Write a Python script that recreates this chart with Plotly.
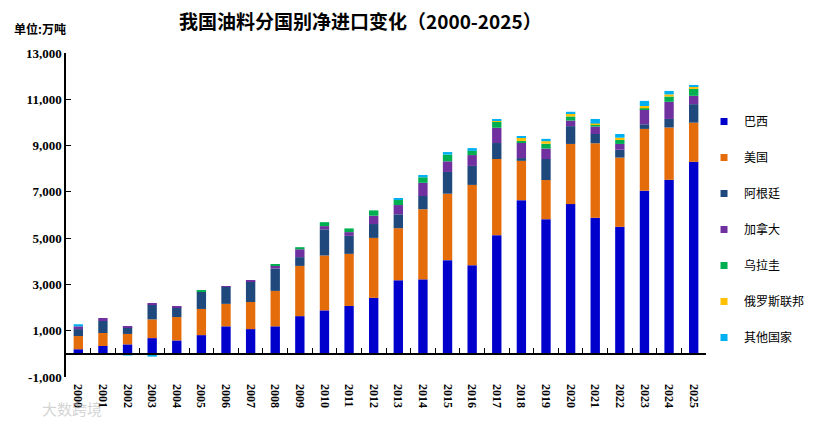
import plotly.graph_objects as go

years = [str(y) for y in range(2000, 2026)]

brazil    = [200, 340, 410, 680, 580, 810, 1190, 1070, 1190, 1630, 1880, 2070, 2420, 3180, 3220, 4050, 3830, 5130, 6640, 5820, 6470, 5880, 5490, 7050, 7520, 8300]
usa       = [570, 560, 450, 810, 1010, 1130, 970, 1170, 1530, 2170, 2370, 2250, 2590, 2250, 3030, 2870, 3470, 3290, 1700, 1690, 2600, 3220, 2990, 2670, 2260, 1690]
argentina = [300, 520, 300, 640, 430, 750, 750, 900, 970, 380, 1130, 780, 600, 600, 570, 940, 820, 690, 120, 910, 770, 400, 340, 200, 370, 800]
canada    = [120, 130, 30, 40, 30, 0, 20, 40, 140, 340, 140, 160, 360, 400, 570, 460, 470, 660, 670, 450, 240, 320, 250, 660, 740, 360]
uruguay   = [0, 0, 0, 0, 0, 30, 0, 0, 40, 90, 170, 160, 230, 220, 240, 290, 180, 260, 70, 210, 180, 100, 170, 30, 230, 300]
russia    = [0, 0, 0, 0, 0, 0, 0, 0, 0, 0, 0, 0, 0, 0, 0, 0, 0, 30, 140, 110, 120, 30, 100, 100, 90, 100]
others    = [90, 0, -70, -120, -50, -50, -50, -50, -50, 0, 0, 0, 0, 70, 100, 110, 120, 90, 50, 100, 80, 200, 160, 220, 150, 70]

series_names = ["巴西", "美国", "阿根廷", "加拿大", "乌拉圭", "俄罗斯联邦", "其他国家"]
series_values = [brazil, usa, argentina, canada, uruguay, russia, others]
series_colors = ["#0000CC", "#E46C0A", "#1F497D", "#7030A0", "#00B050", "#FFC000", "#00B0F0"]

y_tick_vals = [-1000, 1000, 3000, 5000, 7000, 9000, 11000, 13000]
y_tick_text = ["-1,000", "1,000", "3,000", "5,000", "7,000", "9,000", "11,000", "13,000"]

# figure is placed at an 8px page offset; plot area spans page x 66..712, y 53..377
W, H = 814, 418
OFF = 8
PL, PR, PT, PB = 66 - OFF, 712 - OFF, 53 - OFF, 377 - OFF
PW, PH = PR - PL, PB - PT


def px(xpage):
    return (xpage - OFF - PL) / PW


def py(ypage):
    return (PB - (ypage - OFF)) / PH


fig = go.Figure()
for name, vals, col in zip(series_names, series_values, series_colors):
    fig.add_trace(go.Bar(
        x=years, y=vals, name=name, marker=dict(color=col, line=dict(width=0)),
        showlegend=False,
    ))
for name, col in zip(series_names, series_colors):
    fig.add_trace(go.Scatter(
        x=[None], y=[None], mode="markers", name=name, legendgroup=name,
        marker=dict(symbol="square", size=7, color=col),
        showlegend=True, hoverinfo="skip",
    ))

y_min, y_max = -1000, 13000
zero_pos = (0 - y_min) / (y_max - y_min)

fig.update_layout(
    width=W, height=H,
    margin=dict(l=PL, r=W - PR, t=PT, b=H - PB),
    paper_bgcolor="white", plot_bgcolor="white",
    barmode="relative", bargap=0.62,
    showlegend=True,
    legend=dict(
        x=px(710), xanchor="left", y=py(107), yanchor="top",
        traceorder="grouped", tracegroupgap=17,
        font=dict(family="Noto Sans CJK SC", size=12, color="black"),
        bgcolor="rgba(0,0,0,0)", itemwidth=30,
    ),
    font=dict(family="Noto Sans CJK SC", color="black"),
    xaxis=dict(
        type="category", anchor="free", position=zero_pos,
        showline=True, linecolor="black", linewidth=1.5,
        ticks="inside", ticklen=5, tickwidth=1, tickcolor="black",
        tickson="boundaries", tickangle=90, ticklabelstandoff=27,
        tickfont=dict(family="Liberation Serif", size=12, color="black", weight="bold"),
        showgrid=False, zeroline=False, automargin=False,
    ),
    yaxis=dict(
        range=[y_min, y_max], tickvals=y_tick_vals, ticktext=y_tick_text,
        showline=True, linecolor="black", linewidth=1.5,
        ticks="inside", ticklen=5, tickwidth=1, tickcolor="black",
        tickfont=dict(family="Liberation Serif", size=13, color="black", weight="bold"),
        showgrid=False, zeroline=False, automargin=False,
    ),
)

fig.add_annotation(
    text="我国油料分国别净进口变化（2000-2025）", xref="paper", yref="paper",
    x=px(363), y=py(20), xanchor="center", yanchor="middle", showarrow=False,
    font=dict(family="Noto Sans CJK SC", size=19, color="black", weight="bold"),
)
fig.add_annotation(
    text="单位:万吨", xref="paper", yref="paper",
    x=px(11), y=py(28), xanchor="left", yanchor="middle", showarrow=False,
    font=dict(family="Noto Sans CJK SC", size=12, color="black", weight="bold"),
)
fig.add_annotation(
    text="大数跨境", xref="paper", yref="paper",
    x=px(40), y=py(408), xanchor="left", yanchor="middle", showarrow=False,
    font=dict(family="Noto Sans CJK SC", size=15, color="rgba(175,175,175,0.55)"),
)

fig.write_html("out.html")
